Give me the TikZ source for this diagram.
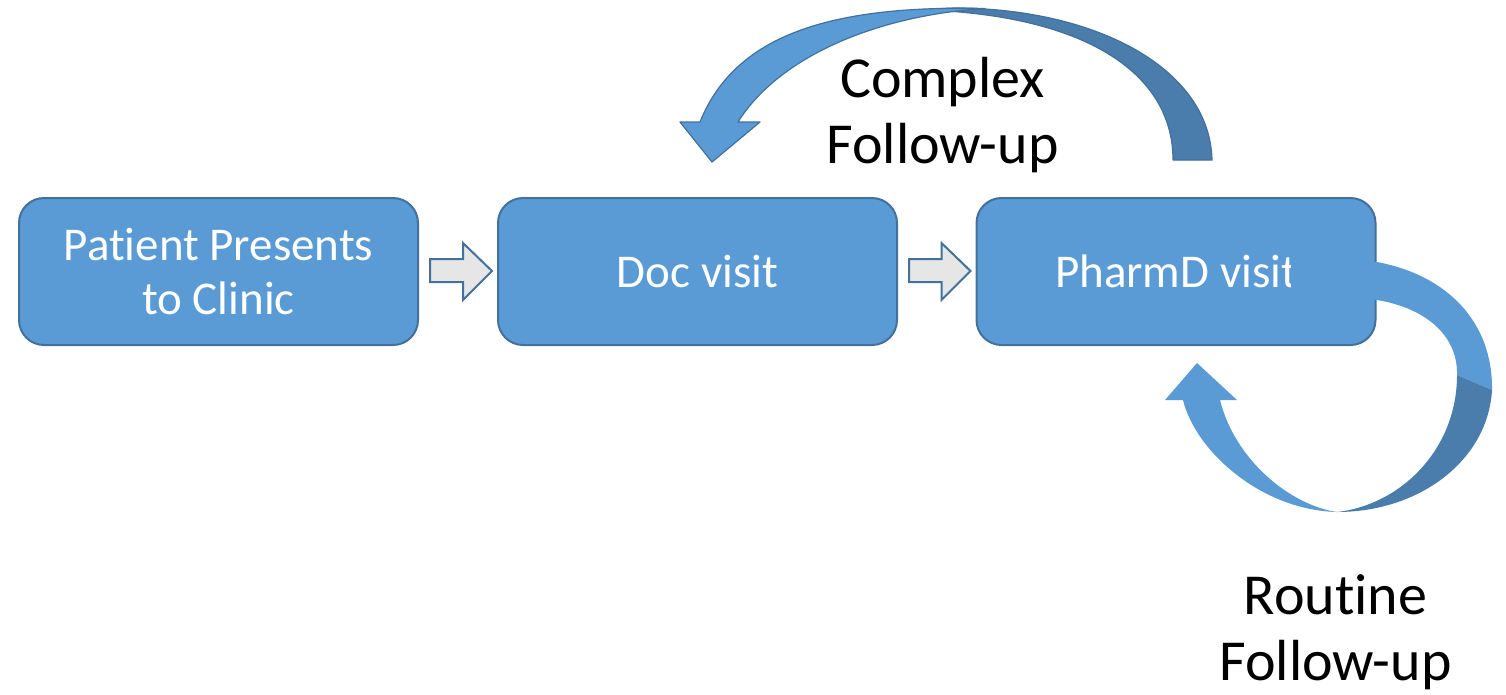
\documentclass[tikz,border=0pt]{standalone}
\usepackage{fontspec}
\setmainfont[Ligatures=NoCommon]{Carlito}
\usetikzlibrary{calc}
\definecolor{boxfill}{HTML}{5B9BD5}
\definecolor{boxedge}{HTML}{41719C}
\definecolor{bandback}{HTML}{4A7DAC}
\definecolor{stepfill}{HTML}{E7E6E6}

\tikzset{
  stage/.style={draw=boxedge, fill=boxfill, line width=2pt, rounded corners=25pt,
    minimum width=399pt, minimum height=147pt, inner sep=0pt, text=white,
    align=center, font=\fontsize{47}{54}\selectfont},
  flowarrow/.style={draw=boxedge, fill=stepfill, line width=2pt, line join=miter},
  bandfront/.style={fill=boxfill, draw=boxedge, line width=1.2pt, line join=round},
  bandrear/.style={fill=bandback, draw=bandback!90!black, line width=1.2pt, line join=round},
  loopfront/.style={fill=boxfill},
  looprear/.style={fill=bandback},
  note/.style={align=center, text=black, font=\fontsize{58}{66}\selectfont}
}

% block arrow between two stages
\newcommand\stepArrow[2]{%
  \draw[flowarrow]
    ($(#1.east)+(11,-12.5)$) -- ($(#2.west)+(-34,-12.5)$) -- ($(#2.west)+(-34,-28.5)$)
    -- ($(#2.west)+(-5,-0.5)$) -- ($(#2.west)+(-34,28.5)$) -- ($(#2.west)+(-34,10.5)$)
    -- ($(#1.east)+(11,10.5)$) -- cycle;}

\begin{document}
\begin{tikzpicture}[x=1pt,y=-1pt]
\useasboundingbox (0,0) rectangle (1506,694);

% process stages
\node[stage] (patient) at (218.5,271.5) {Patient Presents\\to Clinic};
\node[stage] (doc) at (697.5,271.5) {Doc visit};
\node[stage] (pharm) at (1176,271.5) {PharmD visit};

\stepArrow{patient}{doc}
\stepArrow{doc}{pharm}

% routine loop: PharmD visit back to itself
\fill[loopfront] (1291,258) -- (1377,262)
  .. controls (1447,275) and (1493,322) .. (1492,390)
  -- (1457,375)
  .. controls (1458,335) and (1425,308) .. (1377,300)
  -- (1291,300) -- cycle;
\fill[looprear] (1492,390)
  .. controls (1488,460) and (1420,512) .. (1337,512)
  .. controls (1400,505) and (1457,450) .. (1457,375) -- cycle;
\fill[loopfront] (1337,512)
  .. controls (1260,510) and (1195,450) .. (1183,400)
  -- (1165,400) -- (1197,363) -- (1237,400) -- (1220,400)
  .. controls (1235,460) and (1290,505) .. (1337,512) -- cycle;

% complex loop: PharmD visit back to Doc visit
\filldraw[bandrear] (1212,160)
  .. controls (1210,70) and (1100,10) .. (960,8)
  .. controls (945,8) and (935,9) .. (925,10)
  .. controls (1080,15) and (1173,70) .. (1173,160) -- cycle;
\filldraw[bandfront] (700,122)
  .. controls (735,35) and (830,5) .. (985,8.5)
  .. controls (880,15) and (780,55) .. (738,122)
  -- (760,122) -- (712,162) -- (680,122) -- cycle;

% loop labels
\node[note, anchor=base] (complex) at (942.5,163) {Complex\\Follow-up};
\node[note, anchor=base] (routine) at (1335.5,680) {Routine\\Follow-up};
\end{tikzpicture}
\end{document}
